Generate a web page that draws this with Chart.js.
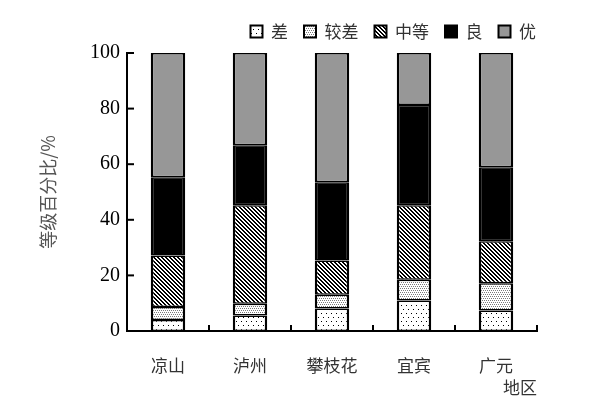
<!DOCTYPE html>
<html>
<head>
<meta charset="utf-8">
<script src="https://cdn.jsdelivr.net/npm/chart.js@4"></script>
<style>
html,body{margin:0;padding:0;background:#fff;}
canvas{display:block;}
</style>
</head>
<body>
<canvas id="c" width="611" height="399"></canvas>
<script>
const categories = ['凉山', '泸州', '攀枝花', '宜宾', '广元'];
const seriesNames = ['差', '较差', '中等', '良', '优'];
const cha = [4.0, 5.6, 8.1, 11.0, 7.4];
const jiaocha = [4.6, 4.2, 4.9, 7.4, 9.8];
const zhongdeng = [18.6, 35.4, 12.4, 26.8, 15.1];
const liang = [28.1, 21.6, 28.1, 36.1, 26.6];
const you = [44.7, 33.2, 46.5, 18.7, 41.1];
const yTicks = [0, 20, 40, 60, 80, 100];

function makePattern(w, h, draw) {
  const c = document.createElement('canvas');
  c.width = w; c.height = h;
  const g = c.getContext('2d');
  g.fillStyle = '#fff'; g.fillRect(0, 0, w, h);
  draw(g);
  return document.getElementById('c').getContext('2d').createPattern(c, 'repeat');
}
const patSparse = makePattern(10, 8, g => {
  g.fillStyle = '#000';
  g.fillRect(1, 1, 1, 1); g.fillRect(6, 1, 1, 1);
  g.fillRect(3, 5, 1, 1); g.fillRect(8, 5, 1, 1);
});
const patDense = makePattern(4, 4, g => {
  g.fillStyle = '#7a7a7a';
  g.fillRect(0, 0, 1, 1); g.fillRect(2, 0, 1, 1);
  g.fillRect(1, 2, 1, 1); g.fillRect(3, 2, 1, 1);
});
const patHatch = makePattern(4, 4, g => {
  g.fillStyle = '#000';
  for (let y = 0; y < 4; y++) { g.fillRect(y, y, 1, 1); g.fillRect((y + 1) % 4, y, 1, 1); }
});

const fills = [patSparse, patDense, patHatch, '#000', '#979797'];
const values = [cha, jiaocha, zhongdeng, liang, you];

const bw = {top: 1.5, bottom: 1.5, left: 2.5, right: 2.5};
const datasets = seriesNames.map((n, i) => ({
  label: n,
  data: values[i],
  backgroundColor: fills[i],
  borderColor: '#000',
  borderWidth: bw,
  borderSkipped: false,
  categoryPercentage: 1,
  barPercentage: 0.42
}));

const inwardTicks = {
  id: 'inwardTicks',
  beforeLayout(chart) {
    const lg = chart.legend;
    if (lg && !lg._patched) {
      const orig = lg.fit.bind(lg);
      lg.fit = function () { orig(); this.height += 3; };
      lg._patched = true;
    }
  },
  afterLayout(chart) {
    if (chart.legend) chart.legend.right += 15;
  },
  afterDraw(chart) {
    const {ctx, scales: {x, y}, chartArea} = chart;
    ctx.save();
    ctx.strokeStyle = '#000';
    ctx.lineWidth = 2;
    yTicks.forEach(v => {
      const py = y.getPixelForValue(v);
      ctx.beginPath(); ctx.moveTo(chartArea.left, py); ctx.lineTo(chartArea.left + 7, py); ctx.stroke();
    });
    for (let i = 1; i <= categories.length; i++) {
      const px = x.getPixelForValue(i - 0.5);
      ctx.beginPath(); ctx.moveTo(px, chartArea.bottom); ctx.lineTo(px, chartArea.bottom - 6); ctx.stroke();
    }
    ctx.restore();
  }
};

new Chart(document.getElementById('c'), {
  type: 'bar',
  data: { labels: categories, datasets },
  options: {
    responsive: false,
    animation: false,
    events: [],
    layout: { padding: { left: 0, right: 74, top: 7, bottom: 0 } },
    plugins: {
      tooltip: { enabled: false },
      legend: {
        position: 'top',
        align: 'end',
        labels: {
          boxWidth: 12,
          boxHeight: 12,
          padding: 16,
          color: '#333',
          font: { family: '"Noto Sans CJK SC", sans-serif', size: 17 }
        }
      }
    },
    scales: {
      x: {
        stacked: true,
        grid: { display: false, drawTicks: false },
        border: { display: true, color: '#000', width: 2 },
        ticks: {
          padding: 24,
          color: '#333',
          font: { family: '"Noto Sans CJK SC", sans-serif', size: 17 }
        },
        title: {
          display: true,
          text: '地区',
          align: 'end',
          color: '#333',
          padding: { top: 0, bottom: 1 },
          font: { family: '"Noto Sans CJK SC", sans-serif', size: 17 }
        },
        afterFit(s) { s.height = 68; }
      },
      y: {
        stacked: true,
        min: 0,
        max: 100,
        grid: { display: false, drawTicks: false },
        border: { display: true, color: '#000', width: 2 },
        ticks: {
          stepSize: 20,
          padding: 7,
          color: '#000',
          font: { family: '"Liberation Serif", serif', size: 20 }
        },
        title: {
          display: true,
          text: '等级百分比/%',
          color: '#555',
          padding: { top: 37, bottom: 0 },
          font: { family: '"Noto Sans CJK SC", sans-serif', size: 18 }
        },
        afterFit(s) { s.width = 127; }
      }
    }
  },
  plugins: [inwardTicks]
});
</script>
</body>
</html>
